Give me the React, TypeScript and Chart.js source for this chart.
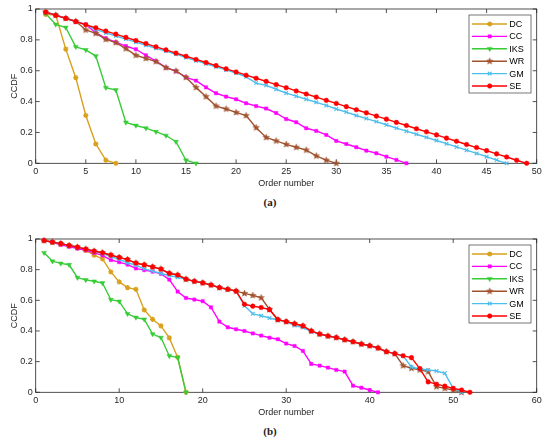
import React, { useEffect, useRef } from 'react';
import { Chart, registerables } from 'chart.js';
import { drawPoint } from 'chart.js/helpers';

Chart.register(...registerables);

// ---------- data (a) ----------
const dcA = [0.965, 0.96, 0.74, 0.555, 0.31, 0.125, 0.02, 0];
const ccA = [0.98, 0.96, 0.94, 0.92, 0.9, 0.845, 0.81, 0.785, 0.76, 0.739, 0.7, 0.663, 0.62, 0.598, 0.557, 0.536, 0.492, 0.454, 0.432, 0.415, 0.389, 0.371, 0.355, 0.326, 0.287, 0.266, 0.227, 0.21, 0.184, 0.145, 0.125, 0.104, 0.082, 0.065, 0.043, 0.022, 0];
const iksA = [0.97, 0.9, 0.88, 0.755, 0.735, 0.695, 0.49, 0.475, 0.265, 0.245, 0.228, 0.205, 0.18, 0.14, 0.02, 0];
const wrA = [0.98, 0.96, 0.94, 0.92, 0.864, 0.842, 0.803, 0.782, 0.743, 0.7, 0.68, 0.659, 0.62, 0.598, 0.557, 0.492, 0.432, 0.371, 0.352, 0.33, 0.309, 0.231, 0.168, 0.145, 0.123, 0.104, 0.086, 0.048, 0.02, 0];
const gmA = [0.98, 0.959, 0.939, 0.918, 0.898, 0.868, 0.845, 0.825, 0.805, 0.785, 0.765, 0.745, 0.727, 0.707, 0.685, 0.665, 0.645, 0.625, 0.605, 0.585, 0.56, 0.52, 0.505, 0.48, 0.455, 0.435, 0.415, 0.395, 0.375, 0.352, 0.332, 0.31, 0.29, 0.27, 0.25, 0.228, 0.208, 0.188, 0.168, 0.148, 0.127, 0.106, 0.085, 0.064, 0.043, 0.021, 0];
const seA = [0.98, 0.959, 0.939, 0.918, 0.898, 0.878, 0.857, 0.837, 0.816, 0.796, 0.776, 0.755, 0.735, 0.714, 0.694, 0.673, 0.653, 0.633, 0.612, 0.592, 0.571, 0.551, 0.531, 0.51, 0.49, 0.469, 0.449, 0.429, 0.408, 0.388, 0.367, 0.347, 0.327, 0.306, 0.286, 0.265, 0.245, 0.224, 0.204, 0.184, 0.163, 0.143, 0.122, 0.102, 0.082, 0.061, 0.041, 0.02, 0];

// ---------- data (b) ----------
const dcB = [0.99, 0.98, 0.97, 0.955, 0.94, 0.925, 0.895, 0.87, 0.785, 0.72, 0.683, 0.672, 0.537, 0.476, 0.433, 0.355, 0.228, 0];
const ccB = [0.99, 0.978, 0.962, 0.95, 0.938, 0.926, 0.91, 0.893, 0.863, 0.849, 0.833, 0.808, 0.797, 0.787, 0.773, 0.735, 0.657, 0.615, 0.605, 0.594, 0.554, 0.461, 0.424, 0.411, 0.4, 0.384, 0.37, 0.356, 0.346, 0.318, 0.302, 0.27, 0.185, 0.174, 0.161, 0.146, 0.135, 0.043, 0.03, 0.015, 0];
const iksB = [0.91, 0.855, 0.841, 0.832, 0.748, 0.733, 0.724, 0.713, 0.604, 0.593, 0.512, 0.488, 0.476, 0.38, 0.357, 0.237, 0.228, 0];
const wrB = [0.99, 0.98, 0.97, 0.958, 0.947, 0.934, 0.921, 0.91, 0.895, 0.88, 0.866, 0.843, 0.831, 0.818, 0.804, 0.776, 0.765, 0.738, 0.724, 0.714, 0.7, 0.683, 0.672, 0.66, 0.645, 0.632, 0.617, 0.54, 0.474, 0.461, 0.447, 0.433, 0.4, 0.38, 0.367, 0.357, 0.343, 0.33, 0.315, 0.304, 0.289, 0.265, 0.252, 0.174, 0.157, 0.146, 0.135, 0.037, 0.026, 0.015, 0];
const gmB = [0.99, 0.98, 0.97, 0.958, 0.947, 0.934, 0.921, 0.905, 0.885, 0.868, 0.845, 0.83, 0.805, 0.79, 0.775, 0.762, 0.75, 0.737, 0.724, 0.714, 0.7, 0.683, 0.672, 0.66, 0.565, 0.512, 0.5, 0.485, 0.472, 0.461, 0.435, 0.422, 0.397, 0.38, 0.367, 0.357, 0.343, 0.33, 0.315, 0.304, 0.289, 0.265, 0.252, 0.238, 0.165, 0.152, 0.146, 0.139, 0.124, 0.026, 0];
const seB = [0.99, 0.98, 0.97, 0.958, 0.947, 0.934, 0.921, 0.91, 0.895, 0.88, 0.866, 0.843, 0.831, 0.818, 0.804, 0.776, 0.765, 0.738, 0.724, 0.714, 0.7, 0.683, 0.672, 0.66, 0.574, 0.562, 0.553, 0.539, 0.474, 0.461, 0.447, 0.433, 0.4, 0.38, 0.367, 0.357, 0.343, 0.33, 0.315, 0.304, 0.289, 0.265, 0.252, 0.238, 0.226, 0.155, 0.068, 0.053, 0.04, 0.026, 0.015, 0];

const seriesNames = ['DC', 'CC', 'IKS', 'WR', 'GM', 'SE'];
const xTitle = 'Order number';
const yTitle = 'CCDF';

const COLORS = ['#D9A01C', '#FF00FF', '#36CC36', '#A0522D', '#4DBEEE', '#FF0000'];
const FONT = '"Liberation Sans", Arial, sans-serif';
const TEXT = '#262626';

function makePentagram(color: string, R: number): HTMLCanvasElement {
  const c = document.createElement('canvas');
  const s = Math.ceil(R * 2 + 2);
  c.width = s;
  c.height = s;
  const ctx = c.getContext('2d')!;
  const cx = s / 2, cy = s / 2;
  const r = R * 0.42;
  ctx.beginPath();
  for (let i = 0; i < 10; i++) {
    const ang = -Math.PI / 2 + (i * Math.PI) / 5;
    const rr = i % 2 === 0 ? R : r;
    const px = cx + rr * Math.cos(ang);
    const py = cy + rr * Math.sin(ang);
    if (i === 0) ctx.moveTo(px, py);
    else ctx.lineTo(px, py);
  }
  ctx.closePath();
  ctx.fillStyle = color;
  ctx.fill();
  ctx.strokeStyle = color;
  ctx.lineWidth = 0.6;
  ctx.stroke();
  return c;
}

function buildDatasets(values: number[][]) {
  const styles: any[] = [
    { pointStyle: 'star', pointRadius: 2.6, pointBorderWidth: 1.3, pointRotation: 0 },
    { pointStyle: 'rect', pointRadius: 2.3, pointBorderWidth: 0.5, pointRotation: 0 },
    { pointStyle: 'triangle', pointRadius: 2.8, pointBorderWidth: 0.5, pointRotation: 180 },
    { pointStyle: makePentagram(COLORS[3], 3.3), pointRadius: 3, pointBorderWidth: 0, pointRotation: 0 },
    { pointStyle: 'crossRot', pointRadius: 2.6, pointBorderWidth: 1.1, pointRotation: 0 },
    { pointStyle: 'circle', pointRadius: 2.3, pointBorderWidth: 0.5, pointRotation: 0 },
  ];
  return values.map((vals, i) => ({
    label: seriesNames[i],
    data: vals.map((v, k) => ({ x: k + 1, y: v })),
    borderColor: COLORS[i],
    backgroundColor: COLORS[i],
    pointBackgroundColor: COLORS[i],
    pointBorderColor: COLORS[i],
    borderWidth: 1.4,
    tension: 0,
    clip: false,
    order: 6 - i,
    ...styles[i],
  }));
}

const framePlugin = {
  id: 'matlabFrame',
  beforeDatasetsDraw(chart: any) {
    const { ctx, chartArea: a, scales } = chart;
    ctx.save();
    ctx.strokeStyle = '#262626';
    ctx.lineWidth = 0.8;
    ctx.strokeRect(a.left, a.top, a.right - a.left, a.bottom - a.top);
    const tl = 4;
    ctx.beginPath();
    scales.x.ticks.forEach((t: any) => {
      const px = scales.x.getPixelForValue(t.value);
      ctx.moveTo(px, a.bottom);
      ctx.lineTo(px, a.bottom - tl);
      ctx.moveTo(px, a.top);
      ctx.lineTo(px, a.top + tl);
    });
    scales.y.ticks.forEach((t: any) => {
      const py = scales.y.getPixelForValue(t.value);
      ctx.moveTo(a.left, py);
      ctx.lineTo(a.left + tl, py);
      ctx.moveTo(a.right, py);
      ctx.lineTo(a.right - tl, py);
    });
    ctx.stroke();
    ctx.restore();
  },
};

const legendPlugin = {
  id: 'matlabLegend',
  afterDraw(chart: any) {
    const { ctx, chartArea: a } = chart;
    const bw = 62, bh = 78;
    const bx = a.right - 67.7;
    const by = a.top + 6;
    ctx.save();
    ctx.fillStyle = '#ffffff';
    ctx.fillRect(bx, by, bw, bh);
    ctx.strokeStyle = '#555555';
    ctx.lineWidth = 0.8;
    ctx.strokeRect(bx, by, bw, bh);
    chart.data.datasets.forEach((ds: any, i: number) => {
      const y = by + 9 + i * 12.4;
      ctx.strokeStyle = ds.borderColor;
      ctx.lineWidth = ds.borderWidth;
      ctx.beginPath();
      ctx.moveTo(bx + 3, y);
      ctx.lineTo(bx + 38, y);
      ctx.stroke();
      ctx.fillStyle = ds.pointBackgroundColor;
      ctx.strokeStyle = ds.pointBorderColor;
      ctx.lineWidth = ds.pointBorderWidth;
      drawPoint(ctx, {
        pointStyle: ds.pointStyle,
        rotation: ds.pointRotation || 0,
        radius: ds.pointRadius,
        borderWidth: ds.pointBorderWidth,
      } as any, bx + 20.7, y);
      ctx.fillStyle = '#000000';
      ctx.font = `9px ${FONT}`;
      ctx.textBaseline = 'middle';
      ctx.textAlign = 'left';
      ctx.fillText(ds.label, bx + 40.3, y + 0.5);
    });
    ctx.restore();
  },
};

function fmtTick(v: any) {
  return String(Number(Number(v).toFixed(2)));
}

function makeConfig(values: number[][], xMax: number, xStep: number, padTop: number): any {
  const tickFont = { family: FONT, size: 9 };
  return {
    type: 'line',
    data: { datasets: buildDatasets(values) },
    options: {
      responsive: false,
      animation: false,
      events: [],
      layout: { padding: { left: 0, right: 13.3, top: padTop, bottom: 0 } },
      plugins: {
        legend: { display: false },
        tooltip: { enabled: false },
        title: { display: false },
      },
      scales: {
        x: {
          type: 'linear',
          min: 0,
          max: xMax,
          ticks: { stepSize: xStep, padding: 3, font: tickFont, color: TEXT, maxRotation: 0, autoSkip: false, callback: fmtTick },
          grid: { display: false, drawTicks: false },
          border: { display: false },
          title: { display: true, text: xTitle, font: tickFont, color: TEXT, padding: { top: 0, bottom: 1.3 } },
          afterFit: (s: any) => {
            s.height = 26.7;
            s.paddingLeft = 0;
            s.paddingRight = 0;
          },
        },
        y: {
          type: 'linear',
          min: 0,
          max: 1,
          ticks: { stepSize: 0.2, padding: 3, font: tickFont, color: TEXT, callback: fmtTick },
          grid: { display: false, drawTicks: false },
          border: { display: false },
          title: { display: true, text: yTitle, font: tickFont, color: TEXT, padding: { top: 9.6, bottom: 0 } },
          afterFit: (s: any) => {
            s.width = 35.7;
            s.paddingTop = 0;
            s.paddingBottom = 0;
          },
        },
      },
    },
    plugins: [framePlugin, legendPlugin],
  };
}

export default function App() {
  const refA = useRef<HTMLCanvasElement>(null);
  const refB = useRef<HTMLCanvasElement>(null);

  useEffect(() => {
    const cA = new Chart(refA.current!, makeConfig([dcA, ccA, iksA, wrA, gmA, seA], 50, 5, 9));
    const cB = new Chart(refB.current!, makeConfig([dcB, ccB, iksB, wrB, gmB, seB], 60, 10, 10));
    return () => {
      cA.destroy();
      cB.destroy();
    };
  }, []);

  const capStyle: React.CSSProperties = {
    position: 'absolute',
    left: 0,
    width: 540,
    textAlign: 'center',
    fontFamily: '"Liberation Serif", "Times New Roman", serif',
    fontWeight: 'bold',
    fontSize: 11,
    lineHeight: '11px',
    color: '#222',
  };

  return (
    <div style={{ position: 'absolute', left: 0, top: 0, width: 550, height: 441, background: '#fff', overflow: 'hidden' }}>
      <canvas ref={refA} width={550} height={190} style={{ position: 'absolute', left: 0, top: 0, width: 550, height: 190 }} />
      <div style={{ ...capStyle, top: 196.8 }}>(a)</div>
      <canvas ref={refB} width={550} height={190} style={{ position: 'absolute', left: 0, top: 229, width: 550, height: 190 }} />
      <div style={{ ...capStyle, top: 425.8 }}>(b)</div>
    </div>
  );
}
